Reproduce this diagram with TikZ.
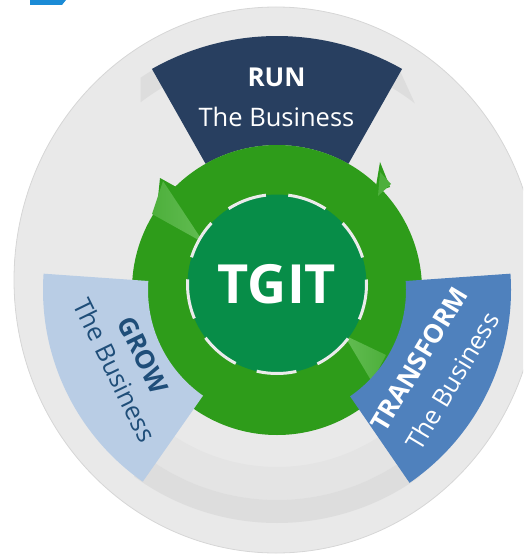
\documentclass[tikz,border=0pt]{standalone}
\usepackage{fontspec}
\setmainfont{Open Sans}
\definecolor{logoblue}{HTML}{1B8BD6}
\definecolor{discin}{HTML}{E9E9E9}
\definecolor{discout}{HTML}{EEEEEE}
\definecolor{discedge}{HTML}{D6D6D6}
\definecolor{bandlight}{HTML}{E4E4E4}
\definecolor{banddark}{HTML}{DDDDDD}
\definecolor{runblue}{HTML}{283F60}
\definecolor{growblue}{HTML}{B9CDE5}
\definecolor{growtext}{HTML}{1F4E79}
\definecolor{transblue}{HTML}{4F81BD}
\definecolor{ringgreen}{HTML}{2E9C1A}
\definecolor{headlight}{HTML}{62BC52}
\definecolor{tgitgreen}{HTML}{078D48}
\definecolor{tgitrim}{HTML}{EBEBEB}
\pgfdeclareradialshading{discshade}{\pgfpoint{0bp}{0bp}}{color(0bp)=(discin); color(43bp)=(discin); color(47bp)=(discout); color(50bp)=(discout)}

\begin{document}
\begin{tikzpicture}[x=1pt, y=1pt,
  headtext/.style={font=\fontsize{26}{28}\selectfont\bfseries, inner sep=0pt},
  subtext/.style={font=\fontsize{25.5}{28}\selectfont, inner sep=0pt},
  centretext/.style={circle, fill=tgitgreen, minimum size=179pt, inner sep=0pt, text=white, font=\fontsize{54}{60}\selectfont\bfseries},
  rimdash/.style={draw=tgitrim, line width=3pt, dash pattern=on 40pt off 22.4pt, dash phase=35.5pt}]
  \useasboundingbox (0,0) rectangle (523,-556);
  \clip (0,0) rectangle (523,-556);
  \fill[logoblue] (30,0) -- (66,0) -- (62,-5) -- (30,-5) -- cycle;
  \shade[shading=discshade] (276,-280) ellipse [x radius=262, y radius=273];
  \draw[discedge, line width=0.8pt] (276,-280) ellipse [x radius=262, y radius=273];
  \begin{scope}[shift={(277,-280)}]
    \fill[bandlight] (234:187) arc[start angle=234, end angle=306, radius=187] -- (306:220) arc[start angle=306, end angle=234, radius=220] -- cycle;
    \fill[banddark] (234:220) arc[start angle=234, end angle=306, radius=220] -- (306:243) arc[start angle=306, end angle=234, radius=243] -- cycle;
    \fill[banddark] (118:244) arc[start angle=118, end angle=124, radius=244] -- (127.5:224) arc[start angle=127.5, end angle=118, radius=224] -- cycle;
    \fill[banddark] (62:244) arc[start angle=62, end angle=60, radius=244] -- (52:224) arc[start angle=52, end angle=62, radius=224] -- cycle;
  \end{scope}
  \begin{scope}[shift={(277,-290)}]
    \fill[runblue] (60.5:145) arc[start angle=60.5, end angle=119.5, radius=145] -- (119.5:254) arc[start angle=119.5, end angle=60.5, radius=254] -- cycle;
    \fill[ringgreen] (0,0) circle[radius=145];
  \end{scope}
  \fill[ringgreen] (160,-178) -- (178,-188) -- (157,-207) -- cycle;
  \fill[ringgreen] (380,-162) -- (390,-187) -- (375,-192) -- cycle;
  \shade[left color=ringgreen!40!headlight, right color=headlight] (163,-181) -- (204,-243) -- (152,-214) -- cycle;
  \fill[headlight!60!ringgreen] (380,-172) -- (391,-184) -- (378,-196) -- cycle;
  \shade[left color=headlight, right color=ringgreen!40!headlight] (344,-335) -- (386,-355) -- (372,-382) -- cycle;
  \begin{scope}[shift={(277,-290)}]
    \fill[growblue] (176:129) arc[start angle=176, end angle=235, radius=129] -- (235:234) arc[start angle=235, end angle=176, radius=234] -- cycle;
    \fill[transblue] (-55.5:129) arc[start angle=-55.5, end angle=4, radius=129] -- (4:234) arc[start angle=4, end angle=-55.5, radius=234] -- cycle;
  \end{scope}
  \node[centretext] (tgit) at (277,-284) {TGIT};
  \draw[rimdash] (tgit.center) circle[radius=89.5];
  \node[headtext, white] (runhead) at (276.5,-77.5) {RUN};
  \node[subtext, white] (runsub) at (276.5,-117) {The Business};
  \node[headtext, growtext, rotate=-64] (growhead) at (143,-355) {GROW};
  \node[subtext, growtext, rotate=-64] (growsub) at (115,-370) {The Business};
  \node[headtext, white, rotate=59] (transhead) at (419,-359) {TRANSFORM};
  \node[subtext, white, rotate=59] (transsub) at (452,-381) {The Business};
\end{tikzpicture}
\end{document}
